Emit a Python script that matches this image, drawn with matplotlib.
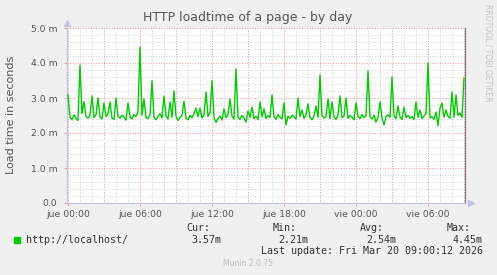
"""
Munin style day graph: HTTP loadtime of a page.
"""
import numpy as np
import matplotlib
matplotlib.use('Agg')
import matplotlib.pyplot as plt

# 10-minute samples, load time in milliseconds
load_ms = [
    3.09, 2.45, 2.38, 2.52, 2.41, 2.36, 3.94, 2.55, 2.90, 2.48,
    2.42, 2.50, 3.06, 2.44, 2.52, 3.00, 2.46, 2.40, 2.86, 2.47,
    2.55, 2.89, 2.43, 2.39, 3.00, 2.48, 2.42, 2.51, 2.45, 2.37,
    2.86, 2.46, 2.40, 2.53, 2.47, 2.62, 4.46, 2.50, 2.97, 2.44,
    2.41, 2.52, 3.49, 2.45, 2.38, 2.47, 2.55, 2.43, 3.06, 2.49,
    2.40, 2.89, 2.45, 3.20, 2.48, 2.36, 2.44, 2.51, 2.91, 2.42,
    2.38, 2.50, 2.44, 2.56, 2.71, 2.46, 2.71, 2.43, 2.52, 3.17,
    2.47, 2.58, 3.49, 2.45, 2.30, 2.41, 2.49, 2.37, 2.69, 2.44,
    2.52, 2.97, 2.48, 2.40, 3.83, 2.46, 2.39, 2.50, 2.43, 2.31,
    2.63, 2.45, 2.74, 2.41, 2.48, 2.38, 2.89, 2.46, 2.69, 2.42,
    2.50, 2.44, 3.09, 2.47, 2.39, 2.53, 2.45, 2.40, 2.86, 2.23,
    2.48, 2.42, 2.51, 2.46, 2.40, 3.00, 2.47, 2.66, 2.41, 2.52,
    2.83, 2.44, 2.38, 2.49, 2.77, 2.45, 3.66, 2.50, 2.43, 2.47,
    2.97, 2.41, 2.89, 2.46, 2.39, 2.52, 3.06, 2.44, 2.48, 3.00,
    2.42, 2.50, 2.45, 2.38, 2.86, 2.47, 2.41, 2.53, 2.44, 2.49,
    3.77, 2.46, 2.40, 2.51, 2.31, 2.44, 2.89, 2.42, 2.23, 2.47,
    2.52, 2.45, 3.60, 2.48, 2.41, 2.77, 2.46, 2.39, 2.74, 2.44,
    2.50, 2.42, 2.47, 2.38, 2.89, 2.45, 2.66, 2.41, 2.49, 2.55,
    4.00, 2.43, 2.47, 2.39, 2.60, 2.21, 2.71, 2.86, 2.45, 2.66,
    2.48, 2.42, 3.17, 2.45, 3.09, 2.50, 2.57, 2.44, 3.57,
]
sample_minutes = 10

x_tick_hours = [0, 6, 12, 18, 24, 30]
x_tick_labels = ['jue 00:00', 'jue 06:00', 'jue 12:00', 'jue 18:00',
                 'vie 00:00', 'vie 06:00']
y_ticks = [0, 1, 2, 3, 4, 5]
y_tick_labels = ['0.0', '1.0 m', '2.0 m', '3.0 m', '4.0 m', '5.0 m']

series_name = 'http://localhost/'
stat_names = ['Cur:', 'Min:', 'Avg:', 'Max:']
stat_values = ['3.57m', '2.21m', '2.54m', '4.45m']
last_update = 'Last update: Fri Mar 20 09:00:12 2026'

# Colors
BG = '#F0F0F0'
LINE = '#00CC00'
MAJOR = '#E9A3A3'
MINOR = '#D9D9D9'
AXIS = '#C4C4E6'
TEXT = '#555555'

W, H = 497, 275
fig = plt.figure(figsize=(W / 100, H / 100), dpi=100, facecolor=BG)
ax = fig.add_axes([67 / W, 1 - 203 / H, (465 - 67) / W, 175 / H])
ax.set_facecolor('white')

hours = np.arange(len(load_ms)) * sample_minutes / 60.0
ax.set_xlim(-1 / 12, 33 + 1 / 12)
ax.set_ylim(0, 5)

# grid: minor every hour / 0.2 m, major every 3 h / 1 m
for h in range(0, 34):
    major = h % 3 == 0
    ax.axvline(h, color=MAJOR if major else MINOR, lw=0.75,
               dashes=(1, 1.5), zorder=1)
for v in np.arange(0.2, 5.01, 0.2):
    major = abs(v - round(v)) < 1e-6
    ax.axhline(v, color=MAJOR if major else MINOR, lw=0.75,
               dashes=(1, 1.5), zorder=1)

ax.plot(hours, load_ms, color=LINE, lw=1.0, zorder=3)

ax.set_xticks(x_tick_hours)
ax.set_xticklabels(x_tick_labels)
ax.set_yticks(y_ticks)
ax.set_yticklabels(y_tick_labels)
ax.tick_params(axis='both', length=2, width=0.7, color=MAJOR,
               labelsize=6.7, labelcolor=TEXT)
ax.tick_params(axis='x', pad=3)
ax.tick_params(axis='y', pad=5)

ax.spines['top'].set_visible(False)
ax.spines['left'].set_color(AXIS)
ax.spines['bottom'].set_color(AXIS)
ax.spines['right'].set_color('#7A7A7A')
for side in ['left', 'bottom', 'right']:
    ax.spines[side].set_linewidth(0.9)

# axis arrows
ax.plot([0], [1.03], marker='^', color=AXIS, markersize=4,
        transform=ax.transAxes, clip_on=False, zorder=5)
ax.plot([1.015], [0], marker='>', color=AXIS, markersize=4,
        transform=ax.transAxes, clip_on=False, zorder=5)

fig.text(11 / W, 1 - 115 / H, 'Load time in seconds', rotation=90,
         ha='center', va='center', fontsize=8, color=TEXT)
fig.text(248 / W, 1 - 18 / H, 'HTTP loadtime of a page - by day',
         ha='center', va='center', fontsize=9, color=TEXT)
fig.text(488 / W, 1 - 53 / H, 'RRDTOOL / TOBI OETIKER', rotation=270,
         ha='center', va='center', fontsize=5.5, color='#C4C4C4')

# legend block
mono = 'DejaVu Sans Mono'
fig.patches.append(plt.Rectangle((14 / W, 1 - 243 / H), 6 / W, 6 / H,
                                 transform=fig.transFigure, color=LINE))
fig.text(26 / W, 1 - 240 / H, series_name, family=mono, fontsize=7.2,
         ha='left', va='center', color='#333333')
head_left = [186, 273, 360, 447]
val_right = [221, 308, 396, 483]
for name, val, hx, vx in zip(stat_names, stat_values, head_left, val_right):
    fig.text(hx / W, 1 - 228 / H, name, family=mono, fontsize=7.2,
             ha='left', va='center', color='#333333')
    fig.text(vx / W, 1 - 240 / H, val, family=mono, fontsize=7.2,
             ha='right', va='center', color='#333333')
fig.text(483 / W, 1 - 251 / H, last_update, family=mono, fontsize=7.2,
         ha='right', va='center', color='#333333')
fig.text(248 / W, 1 - 264 / H, 'Munin 2.0.75', fontsize=5.5,
         ha='center', va='center', color='#BDBDBD')

fig.savefig('out.png', dpi=100, facecolor=BG)
